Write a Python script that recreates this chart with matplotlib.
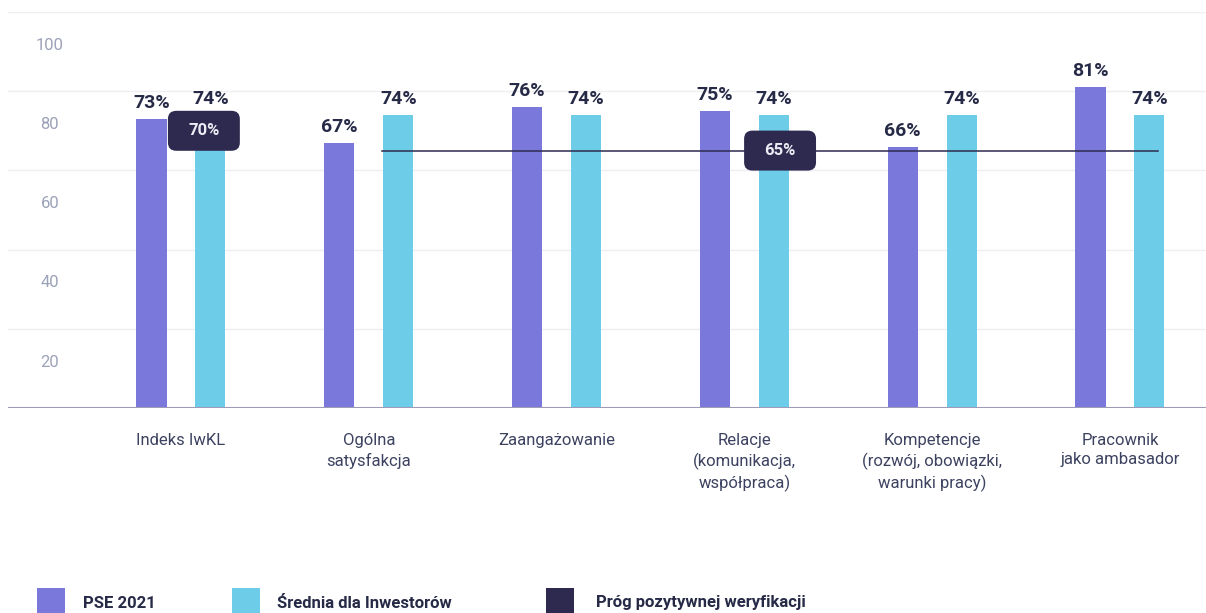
import numpy as np
import matplotlib.pyplot as plt
from matplotlib.patches import FancyBboxPatch, Rectangle

# category names and survey results
categories = ['Indeks IwKL', 'Ogólna\nsatysfakcja', 'Zaangażowanie',
              'Relacje\n(komunikacja,\nwspółpraca)',
              'Kompetencje\n(rozwój, obowiązki,\nwarunki pracy)',
              'Pracownik\njako ambasador']
pse_2021 = [73, 67, 76, 75, 66, 81]
investors_avg = [74, 74, 74, 74, 74, 74]
threshold_index = 70      # threshold for the IwKL index
threshold_other = 65      # threshold for the remaining areas
y_ticks = [20, 40, 60, 80, 100]

PURPLE = '#7b78dc'
CYAN = '#6dcde8'
DARK = '#2e2a4f'
TEXT = '#262a46'
LABEL = '#3c4260'
TICK = '#9ca2b8'

plt.rcParams['font.family'] = ['Roboto', 'DejaVu Sans']

fig = plt.figure(figsize=(12.06, 6.13), dpi=100)
ax = fig.add_axes([8 / 1206, 1 - 408 / 613, 1198 / 1206, 396 / 613])

x = np.arange(len(categories))
w = 0.16
off = 0.157

ax.bar(x - off, pse_2021, w, color=PURPLE, zorder=2)
ax.bar(x + off, investors_avg, w, color=CYAN, zorder=2)

ax.set_xlim(-0.921, 5.458)
ax.set_ylim(0, 100)

# value labels above the bars
for xi, v in zip(x - off, pse_2021):
    ax.annotate(f'{v}%', (xi, v), xytext=(0, 8), textcoords='offset points',
                ha='center', va='baseline', fontsize=14, fontweight='bold',
                color=TEXT, zorder=4)
for xi, v in zip(x + off, investors_avg):
    ax.annotate(f'{v}%', (xi, v), xytext=(0, 8), textcoords='offset points',
                ha='center', va='baseline', fontsize=14, fontweight='bold',
                color=TEXT, zorder=4)

# gridlines and baseline
for t in y_ticks:
    ax.axhline(t, color='#efeff3', lw=1, zorder=0)
    ax.annotate(str(t), (0.035, t), xycoords=('axes fraction', 'data'),
                xytext=(0, -24), textcoords='offset points',
                ha='center', va='center', fontsize=12, color=TICK)
ax.axhline(0, color='#9d9bb8', lw=1.5, zorder=3)

for s in ax.spines.values():
    s.set_visible(False)
ax.set_xticks([])
ax.set_yticks([])

# category labels under the axis
for xi, lab in zip(x, categories):
    ax.annotate(lab, (xi, 0), xytext=(0, -18), textcoords='offset points',
                ha='center', va='top', fontsize=12, color=LABEL,
                linespacing=1.35)

# positive verification threshold
ax.plot([1.07, 5.2], [threshold_other, threshold_other], color=DARK, lw=1.1, zorder=3)


def threshold_box(xc, val):
    bw, bh = 0.383, 10.1
    box = FancyBboxPatch((xc - bw / 2, val - bh / 2), bw, bh,
                         boxstyle='round,pad=0,rounding_size=0.045',
                         mutation_aspect=46, facecolor=DARK, edgecolor='none',
                         zorder=5)
    ax.add_patch(box)
    ax.text(xc, val, f'{val}%', ha='center', va='center', fontsize=12,
            fontweight='bold', color='#ececf4', zorder=6)


threshold_box(0.122, threshold_index)
threshold_box(3.19, threshold_other)

# legend along the bottom edge
legend = [(PURPLE, 'PSE 2021', 37, 83),
          (CYAN, 'Średnia dla Inwestorów', 232, 277),
          (DARK, 'Próg pozytywnej weryfikacji', 546, 596)]
for col, txt, sx, tx in legend:
    fig.add_artist(Rectangle((sx / 1206, 0), 28 / 1206, 25 / 613,
                             transform=fig.transFigure, facecolor=col,
                             edgecolor='none'))
    fig.text(tx / 1206, 1 - 603 / 613, txt, ha='left', va='center',
             fontsize=12, fontweight='bold', color=TEXT)

fig.savefig('out.png', dpi=100, facecolor='white')
